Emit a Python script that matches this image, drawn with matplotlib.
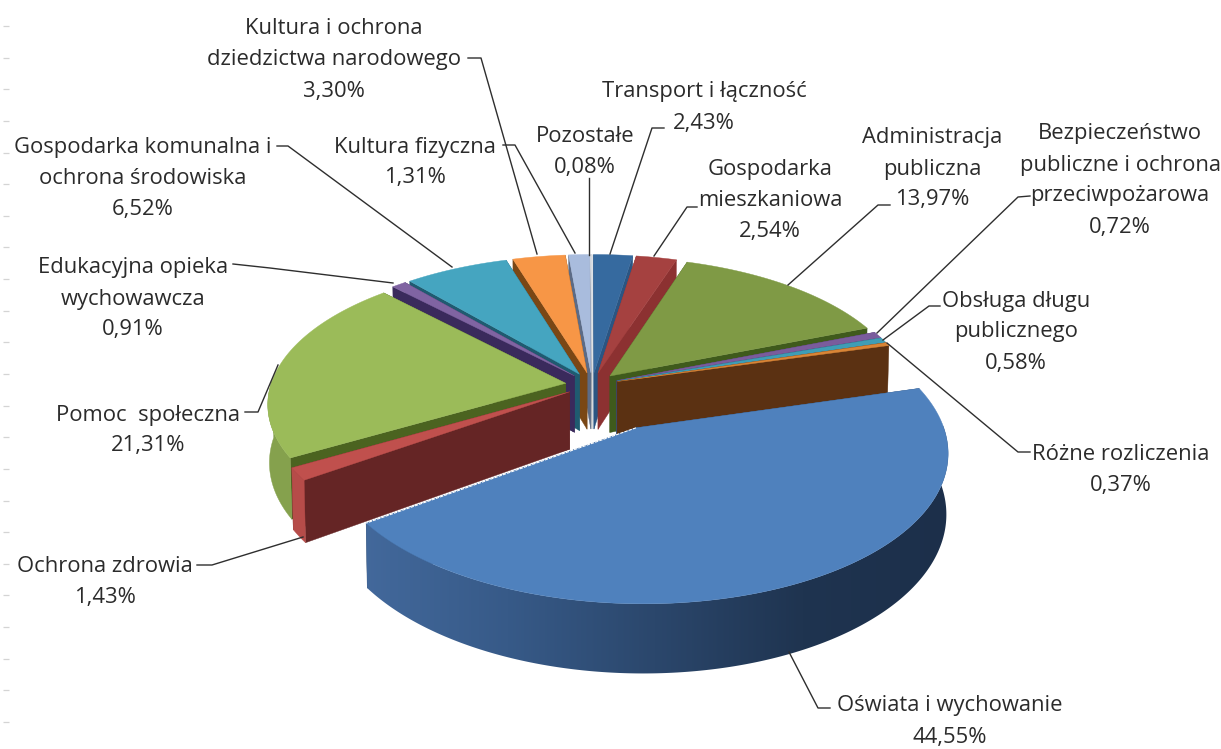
import numpy as np
import matplotlib
matplotlib.use("Agg")
import matplotlib.pyplot as plt
from matplotlib.colors import to_rgb, LinearSegmentedColormap
from matplotlib.patches import Polygon

# Dane (wydatki w %), od godziny 12 zgodnie z ruchem wskazowek
etykiety = ["Transport i łączność", "Gospodarka\nmieszkaniowa", "Administracja\npubliczna",
            "Bezpieczeństwo\npubliczne i ochrona\nprzeciwpożarowa", "Obsługa długu\npublicznego",
            "Różne rozliczenia", "Oświata i wychowanie", "Ochrona zdrowia", "Pomoc  społeczna",
            "Edukacyjna opieka\nwychowawcza", "Gospodarka komunalna i\nochrona środowiska",
            "Kultura i ochrona\ndziedzictwa narodowego", "Kultura fizyczna", "Pozostałe"]
wartosci = [2.43, 2.54, 13.97, 0.72, 0.58, 0.37, 44.55, 1.43, 21.31, 0.91, 6.52, 3.30, 1.31, 0.08]

# Styl wycinkow
kolory_gora = ["#366a9f", "#a54140", "#7f9a45", "#7a5c9c", "#3f9db5", "#d98536", "#4f81bd",
               "#c0504d", "#9bbb59", "#8064a2", "#45a5c0", "#f79646", "#a9bcdd", "#d8dde4"]
kolory_sciana = ["#2b5582", "#8c3131", "#3f5a1c", "#4a3668", "#256a7e", "#5b3112", "#2c4a70",
                 "#652525", "#4b6320", "#3a2a5c", "#1f5b70", "#7a4715", "#5c6b86", "#9aa0a8"]
wysuniecie = [0.09, 0.09, 0.09, 0.09, 0.09, 0.09, 0.33, 0.09, 0.09, 0.09, 0.09, 0.09, 0.09, 0.09]

# Polozenie etykiet: x srodka, y pierwszej linii
pozycje_etykiet = [(704, 92), (770, 170), (932, 138), (1120, 134), (1016, 301), (1121, 454), (950, 706),
                   (105, 567), (148, 415), (133, 268), (143, 148), (334, 29), (415, 147), (585, 136)]
linie_odniesienia = [[(664, 128), (652, 128), (610, 254)],
                     [(697, 207), (687, 207), (654, 256)],
                     [(890, 205), (878, 205), (788, 285)],
                     [(1030, 196), (1018, 197), (877, 333)],
                     [(940, 306), (929, 306), (883, 340)],
                     [(1030, 452), (1018, 452), (887, 343)],
                     [(830, 708), (818, 708), (789, 652)],
                     [(197, 565), (212, 565), (303, 537)],
                     [(245, 412), (258, 412), (278, 365)],
                     [(233, 264), (270, 268), (393, 283)],
                     [(277, 146), (288, 146), (452, 267)],
                     [(468, 58), (481, 58), (537, 254)],
                     [(503, 145), (515, 145), (575, 253)],
                     [(589, 178), (589, 255), (589, 255)]]

# Parametry rzutu perspektywicznego (piksele)
cx, cy = 592, 385
rx, ry = 295, 138
persp = 0.14
wysokosc = 57
krok_linii = 31


def rzut(X, Y, dol=False):
    s = 1 / (1 - persp * Y)
    x = cx + rx * X * s
    y = cy + ry * Y * s
    if dol:
        x = cx + (x - cx) * 0.995
        y = y + wysokosc * s
    return x, y


def przyciemnij(kolor, f):
    return tuple(min(1, c * f) for c in to_rgb(kolor))


plt.rcParams["font.family"] = ["Open Sans", "DejaVu Sans"]
fig = plt.figure(figsize=(12.21, 7.49), dpi=100)
ax = fig.add_axes([0, 0, 1, 1])

# Slady podzialki przy lewej krawedzi
ax.hlines(np.linspace(26, 722, 23), 2.5, 9, color="#d4d4d4", lw=0.9)

# Gradient boku najwiekszego wycinka
gradient = LinearSegmentedColormap.from_list("bok", [(0, "#43699c"), (0.25, "#375a88"), (0.5, "#2b476c"),
                                                     (0.75, "#1f3450"), (1, "#1c2f4a")])

# Katy wycinkow
granice = np.cumsum([0] + wartosci) / np.sum(wartosci) * 2 * np.pi
srodki = (granice[:-1] + granice[1:]) / 2

# Rysowanie od tylu do przodu
kolejnosc = sorted(range(len(wartosci)), key=lambda k: -np.cos(srodki[k]))

for i in kolejnosc:
    t = np.linspace(granice[i], granice[i + 1], max(8, int(wartosci[i] * 8)))
    ax0 = wysuniecie[i] * np.sin(srodki[i])
    ay0 = -wysuniecie[i] * np.cos(srodki[i])
    X = ax0 + np.sin(t)
    Y = ay0 - np.cos(t)

    # Sciany przeciecia
    for j in (0, -1):
        a_g = rzut(ax0, ay0)
        a_d = rzut(ax0, ay0, True)
        b_g = rzut(X[j], Y[j])
        b_d = rzut(X[j], Y[j], True)
        ax.add_patch(Polygon([a_g, b_g, b_d, a_d], fc=kolory_sciana[i], ec=kolory_sciana[i], lw=0.3))

    # Sciana boczna (tylko czesc widoczna z przodu)
    widoczne = -np.cos(t) > -0.02
    if widoczne.any():
        gorne = [rzut(a, b) for a, b in zip(X[widoczne], Y[widoczne])]
        dolne = [rzut(a, b, True) for a, b in zip(X[widoczne], Y[widoczne])]
        obrys = gorne + dolne[::-1]
        if i == 6:
            bok = Polygon(obrys, fc="none", ec="none")
            ax.add_patch(bok)
            obraz = ax.imshow(np.linspace(0, 1, 256).reshape(1, -1), cmap=gradient, aspect="auto",
                              extent=(360, 950, 680, 380), zorder=1)
            obraz.set_clip_path(bok)
        else:
            kolor = przyciemnij(kolory_gora[i], 0.86 if i == 8 else 0.95)
            ax.add_patch(Polygon(obrys, fc=kolor, ec=kolor, lw=0.3))

    # Powierzchnia gorna
    gora = [rzut(ax0, ay0)] + [rzut(a, b) for a, b in zip(X, Y)]
    ax.add_patch(Polygon(gora, fc=kolory_gora[i], ec=kolory_gora[i], lw=0.3))

    # Jasna krawedz duzego wycinka
    if i == 6:
        p0 = rzut(ax0, ay0)
        p1 = rzut(X[-1], Y[-1])
        ax.plot([p0[0], p1[0]], [p0[1], p1[1]], color="white", lw=0.8, ls=(0, (3, 1)))

# Linie odniesienia i etykiety
for linia in linie_odniesienia:
    xs, ys = zip(*linia)
    ax.plot(xs, ys, color="#2e2e2e", lw=1.0, zorder=5)

for etykieta, wartosc, (x, y) in zip(etykiety, wartosci, pozycje_etykiet):
    linie = etykieta.split("\n") + [f"{wartosc:.2f}".replace(".", ",") + "%"]
    for n, linia in enumerate(linie):
        ax.text(x, y + n * krok_linii, linia, ha="center", va="center", fontsize=15.8,
                color="#2b2b2b", zorder=6)

ax.set_xlim(0, 1221)
ax.set_ylim(749, 0)
ax.axis("off")

fig.savefig("out.png", dpi=100)
